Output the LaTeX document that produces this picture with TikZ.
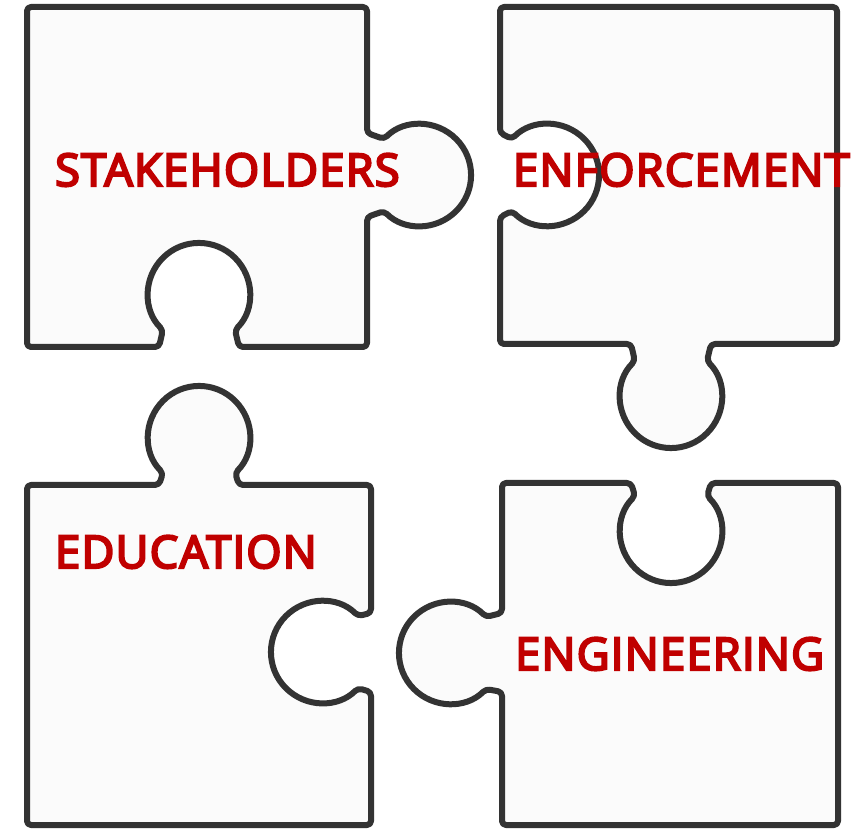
\documentclass[tikz,border=0pt]{standalone}
\usepackage{fontspec}
\setmainfont{Open Sans}
\newfontfamily\lblfont[FakeBold=5,LetterSpace=3]{Open Sans}
\definecolor{edge}{HTML}{333333}
\definecolor{piecefill}{HTML}{FBFBFB}
\definecolor{lblred}{HTML}{C00000}
\begin{document}
\begin{tikzpicture}[x=1pt,y=1pt,
  piece/.style={draw=edge, fill=piecefill, line width=6pt, rounded corners=4pt, line join=round},
  lbl/.style={text=lblred, font=\lblfont\fontsize{45}{54}\selectfont, inner sep=0pt, anchor=base west}]
\useasboundingbox[fill=white] (0,0) rectangle (867,830);
% STAKEHOLDERS piece
\draw[piece] (27,823) -- (367,823) -- (367,697) -- (384,691)
  arc[start angle=135, end angle=-135, radius=51] -- (367,613) -- (367,483)
  -- (239,483) -- (235,500) arc[start angle=-45, end angle=225, radius=51]
  -- (159,483) -- (27,483) -- cycle;
% ENFORCEMENT piece
\draw[piece] (500,823) -- (837,823) -- (837,486) -- (711,486) -- (707,469)
  arc[start angle=45, end angle=-225, radius=51] -- (631,486) -- (500,486)
  -- (500,613) -- (512,619) arc[start angle=-135, end angle=135, radius=51]
  -- (500,697) -- cycle;
% EDUCATION piece
\draw[piece] (27,345) -- (159,345) -- (163,357)
  arc[start angle=225, end angle=-45, radius=51] -- (239,345) -- (371,345)
  -- (371,217) -- (358,214) arc[start angle=45, end angle=315, radius=51]
  -- (371,138) -- (371,5) -- (27,5) -- cycle;
% ENGINEERING piece
\draw[piece] (502,347) -- (631,347) -- (635,334)
  arc[start angle=135, end angle=405, radius=51] -- (711,347) -- (838,347)
  -- (838,5) -- (502,5) -- (502,138) -- (486,141)
  arc[start angle=-45, end angle=-315, radius=51] -- (502,217) -- cycle;
\node[lbl] (stake) at (55,644) {STAKEHOLDERS};
\node[lbl] (enf) at (513,644) {ENFORCEMENT};
\node[lbl] (edu) at (55,262) {EDUCATION};
\node[lbl] (eng) at (515,160) {ENGINEERING};
\end{tikzpicture}
\end{document}
